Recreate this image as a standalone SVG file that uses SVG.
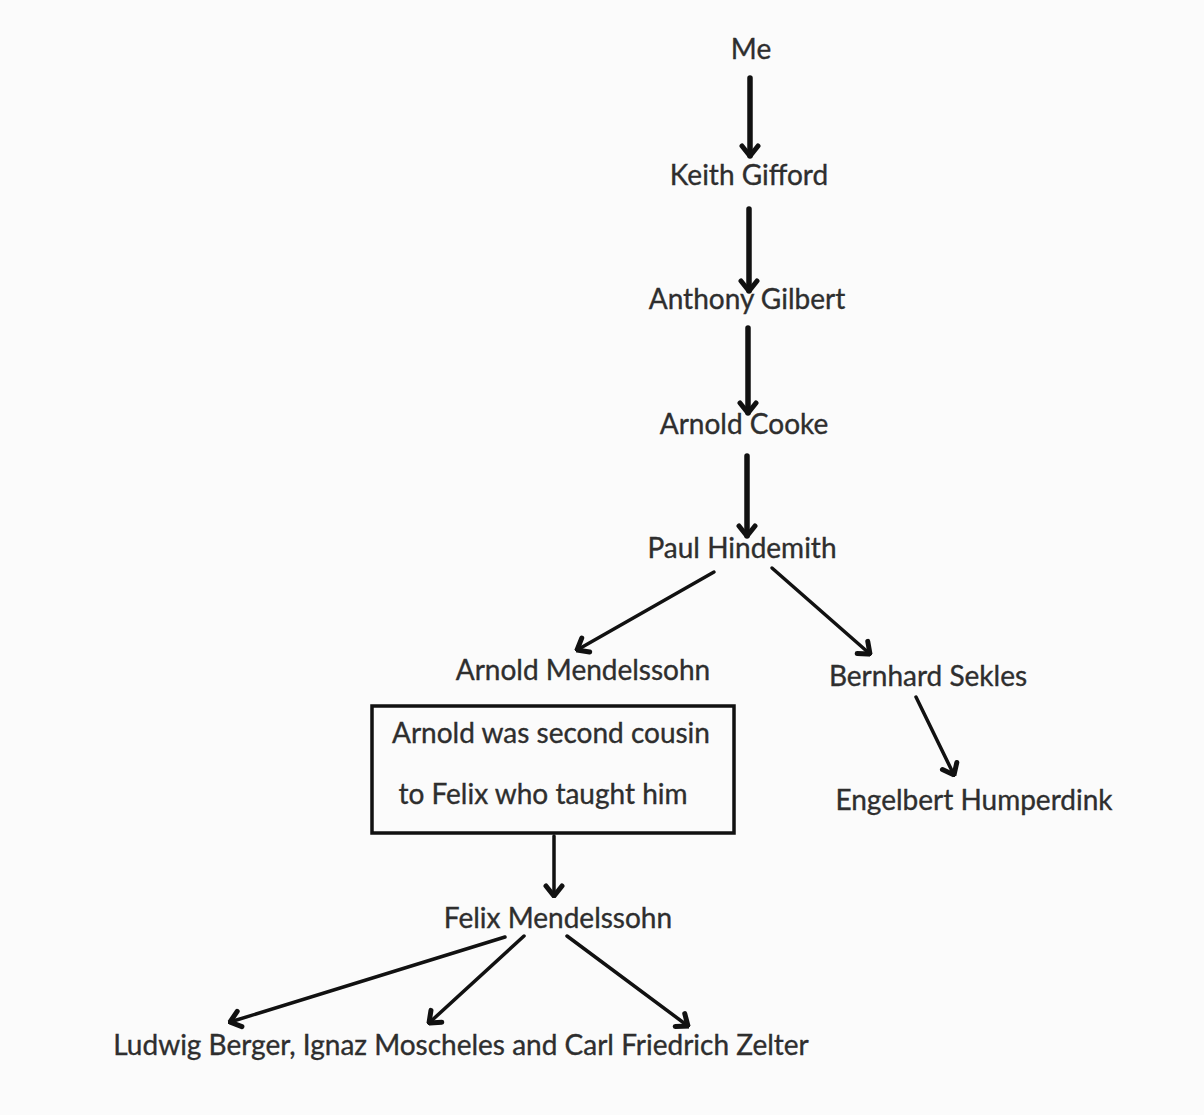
<svg xmlns="http://www.w3.org/2000/svg" width="1204" height="1115" viewBox="0 0 1204 1115">
<style>
  .t { font-family: Lato, "Open Sans", "Liberation Sans", sans-serif; font-size: 28px; fill: #2e2e2e; stroke: #2e2e2e; stroke-width: 0.35; text-anchor: middle; }
  .c { stroke: #111; fill: none; stroke-linecap: round; }
  .thick { stroke-width: 5.5; }
  .thin { stroke-width: 3.5; }
</style>
<defs>
  <marker id="head" viewBox="-14 -11 16 22" refX="0" refY="0" markerWidth="16" markerHeight="22" orient="auto" markerUnits="userSpaceOnUse">
    <path d="M-10,-8 L0,0 L-10,8" fill="none" stroke="#111" stroke-width="5" stroke-linejoin="miter" stroke-linecap="round"/>
  </marker>
</defs>
<rect width="1204" height="1115" fill="#fbfbfb"/>
<g id="connectors">
  <line class="c thick" x1="750" y1="78" x2="750" y2="156" marker-end="url(#head)"/>
  <line class="c thick" x1="749" y1="209" x2="749" y2="291" marker-end="url(#head)"/>
  <line class="c thick" x1="748" y1="328" x2="748" y2="413" marker-end="url(#head)"/>
  <line class="c thick" x1="747" y1="456" x2="747" y2="536" marker-end="url(#head)"/>
  <line class="c thin" x1="714" y1="572" x2="577" y2="650" marker-end="url(#head)"/>
  <line class="c thin" x1="772" y1="568" x2="870" y2="654" marker-end="url(#head)"/>
  <line class="c thin" x1="916" y1="697" x2="954" y2="775" marker-end="url(#head)"/>
  <line class="c thin" x1="554" y1="836" x2="554" y2="896" marker-end="url(#head)"/>
  <line class="c thin" x1="505" y1="937" x2="230" y2="1022" marker-end="url(#head)"/>
  <line class="c thin" x1="524" y1="936" x2="429" y2="1023" marker-end="url(#head)"/>
  <line class="c thin" x1="567" y1="936" x2="688" y2="1026" marker-end="url(#head)"/>
</g>
<g id="me"><text class="t" x="751" y="59">Me</text></g>
<g id="keith"><text class="t" x="749" y="185">Keith Gifford</text></g>
<g id="anthony"><text class="t" x="747" y="309">Anthony Gilbert</text></g>
<g id="cooke"><text class="t" x="744" y="434">Arnold Cooke</text></g>
<g id="hindemith"><text class="t" x="742" y="558">Paul Hindemith</text></g>
<g id="arnoldm"><text class="t" x="583" y="680">Arnold Mendelssohn</text></g>
<g id="sekles"><text class="t" x="928" y="686">Bernhard Sekles</text></g>
<g id="humperdink"><text class="t" x="974" y="810">Engelbert Humperdink</text></g>
<g id="note">
  <rect x="372" y="706" width="362" height="127" fill="none" stroke="#111" stroke-width="3.5"/>
  <text class="t" x="551" y="743">Arnold was second cousin</text>
  <text class="t" x="543" y="804">to Felix who taught him</text>
</g>
<g id="felix"><text class="t" x="558" y="928">Felix Mendelssohn</text></g>
<g id="teachers"><text class="t" x="461" y="1055">Ludwig Berger, Ignaz Moscheles and Carl Friedrich Zelter</text></g>
</svg>
